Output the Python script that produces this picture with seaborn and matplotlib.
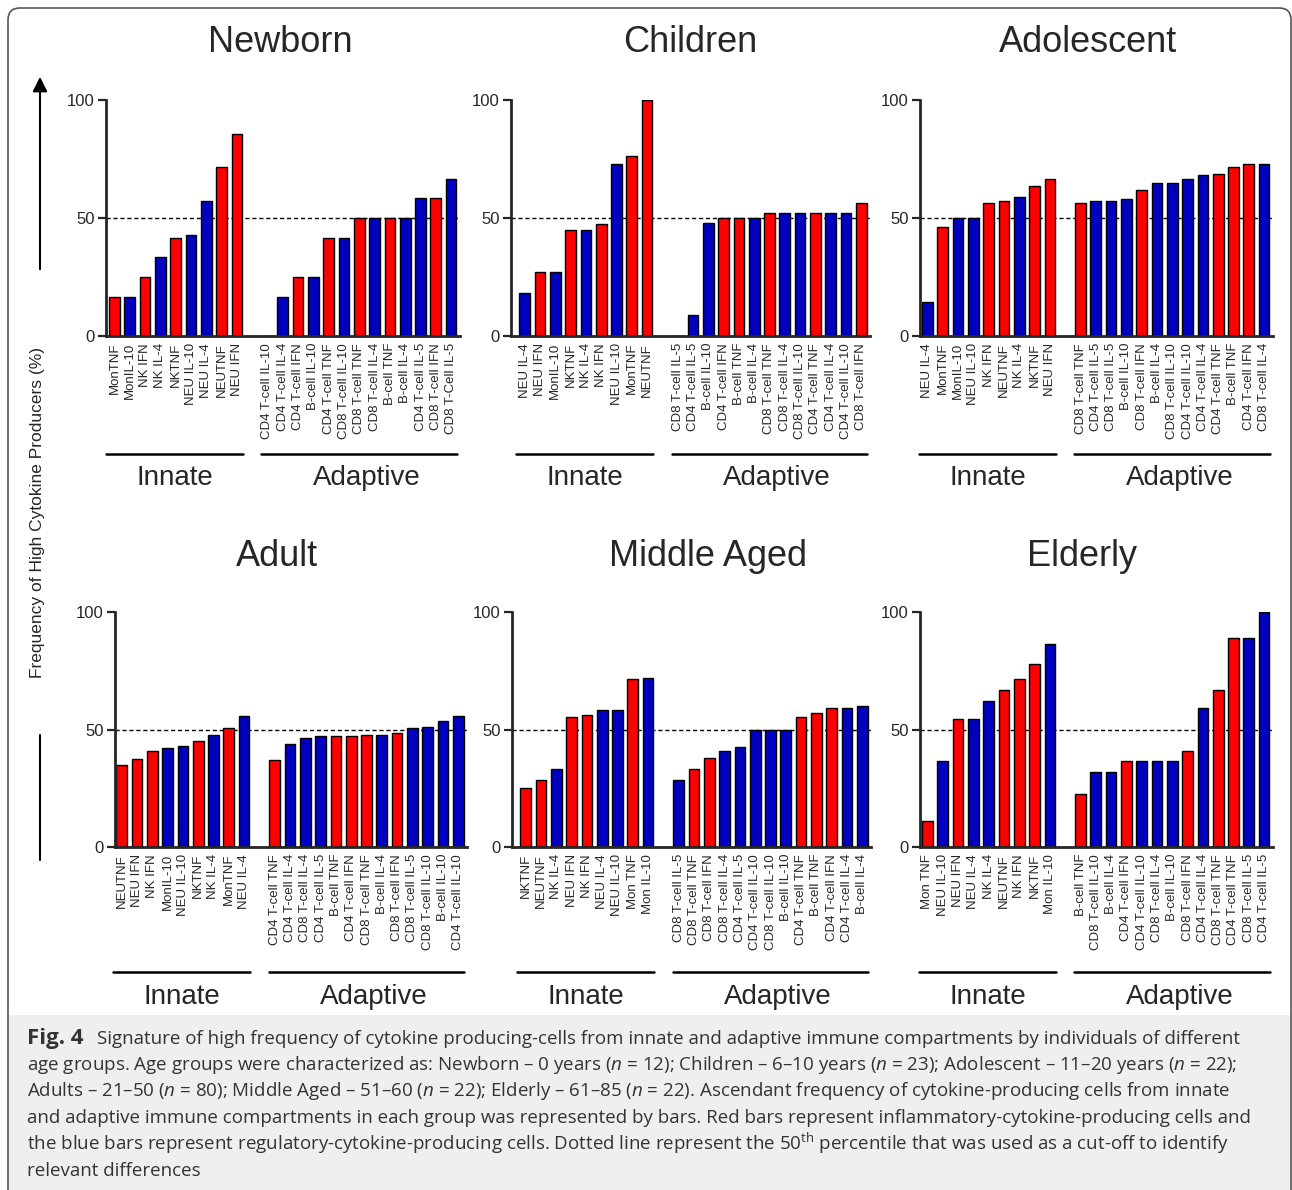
import matplotlib
matplotlib.use('Agg')
import matplotlib.pyplot as plt
from matplotlib.lines import Line2D
from matplotlib.patches import FancyBboxPatch, Rectangle, FancyArrowPatch
from matplotlib.transforms import blended_transform_factory
import pandas as pd
import seaborn as sns

W, H = 1292, 1190

# --- data (frequency of high cytokine producers, %) ---
titles = ['Newborn', 'Children', 'Adolescent', 'Adult', 'Middle Aged', 'Elderly']

newborn_innate = ['MonTNF', 'MonIL-10', 'NK IFN', 'NK IL-4', 'NKTNF', 'NEU IL-10',
                  'NEU IL-4', 'NEUTNF', 'NEU IFN']
newborn_innate_vals = [16.7, 16.7, 25.0, 33.3, 41.7, 42.9, 57.1, 71.4, 85.7]
newborn_adaptive = ['CD4 T-cell IL-10', 'CD4 T-cell IL-4', 'CD4 T-cell IFN', 'B-cell IL-10',
                    'CD4 T-cell TNF', 'CD8 T-cell IL-10', 'CD8 T-cell TNF', 'CD8 T-cell IL-4',
                    'B-cell TNF', 'B-cell IL-4', 'CD4 T-cell IL-5', 'CD8 T-cell IFN',
                    'CD8 T-Cell IL-5']
newborn_adaptive_vals = [0, 16.7, 25.0, 25.0, 41.7, 41.7, 50.0, 50.0, 50.0, 50.0, 58.3, 58.3, 66.7]

children_innate = ['NEU IL-4', 'NEU IFN', 'MonIL-10', 'NKTNF', 'NK IL-4', 'NK IFN',
                   'NEU IL-10', 'MonTNF', 'NEUTNF']
children_innate_vals = [18.2, 27.3, 27.3, 45.0, 45.0, 47.6, 72.7, 76.2, 100.0]
children_adaptive = ['CD8 T-cell IL-5', 'CD4 T-cell IL-5', 'B-cell IL-10', 'CD4 T-cell IFN',
                     'B-cell TNF', 'B-cell IL-4', 'CD8 T-cell TNF', 'CD8 T-cell IL-4',
                     'CD8 T-cell IL-10', 'CD4 T-cell TNF', 'CD4 T-cell IL-4', 'CD4 T-cell IL-10',
                     'CD8 T-cell IFN']
children_adaptive_vals = [0, 9.1, 47.8, 50.0, 50.0, 50.0, 52.2, 52.2, 52.2, 52.2, 52.2, 52.2, 56.5]

adolescent_innate = ['NEU IL-4', 'MonTNF', 'MonIL-10', 'NEU IL-10', 'NK IFN', 'NEUTNF',
                     'NK IL-4', 'NKTNF', 'NEU IFN']
adolescent_innate_vals = [14.3, 46.2, 50.0, 50.0, 56.3, 57.1, 58.8, 63.6, 66.7]
adolescent_adaptive = ['CD8 T-cell TNF', 'CD4 T-cell IL-5', 'CD8 T-cell IL-5', 'B-cell IL-10',
                       'CD8 T-cell IFN', 'B-cell IL-4', 'CD8 T-cell IL-10', 'CD4 T-cell IL-10',
                       'CD4 T-cell IL-4', 'CD4 T-cell TNF', 'B-cell TNF', 'CD4 T-cell IFN',
                       'CD8 T-cell IL-4']
adolescent_adaptive_vals = [56.3, 57.1, 57.1, 57.9, 62.0, 65.0, 65.0, 66.7, 68.2, 68.8,
                            71.4, 72.7, 72.7]

adult_innate = ['NEUTNF', 'NEU IFN', 'NK IFN', 'MonIL-10', 'NEU IL-10', 'NKTNF', 'NK IL-4',
                'MonTNF', 'NEU IL-4']
adult_innate_vals = [35.1, 37.3, 40.7, 42.3, 43.1, 45.0, 47.7, 50.8, 55.7]
adult_adaptive = ['CD4 T-cell TNF', 'CD4 T-cell IL-4', 'CD8 T-cell IL-4', 'CD4 T-cell IL-5',
                  'B-cell TNF', 'CD4 T-cell IFN', 'CD8 T-cell TNF', 'B-cell IL-4',
                  'CD8 T-cell IFN', 'CD8 T-cell IL-5', 'CD8 T-cell IL-10', 'B-cell IL-10',
                  'CD4 T-cell IL-10']
adult_adaptive_vals = [36.9, 43.7, 46.3, 47.2, 47.2, 47.2, 47.5, 47.7, 48.5, 50.8, 51.2,
                       53.5, 55.6]

middle_innate = ['NKTNF', 'NEUTNF', 'NK IL-4', 'NEU IFN', 'NK IFN', 'NEU IL-4', 'NEU IL-10',
                 'Mon TNF', 'Mon IL-10']
middle_innate_vals = [24.9, 28.4, 33.1, 55.4, 56.2, 58.1, 58.1, 71.3, 72.1]
middle_adaptive = ['CD8 T-cell IL-5', 'CD8 T-cell TNF', 'CD8 T-cell IFN', 'CD8 T-cell IL-4',
                   'CD4 T-cell IL-5', 'CD4 T-cell IL-10', 'CD8 T-cell IL-10', 'B-cell IL-10',
                   'CD4 T-cell TNF', 'B-cell TNF', 'CD4 T-cell IFN', 'CD4 T-cell IL-4',
                   'B-cell IL-4']
middle_adaptive_vals = [28.4, 33.1, 37.9, 40.7, 42.7, 50.0, 50.0, 50.0, 55.4, 56.9, 59.0,
                        59.0, 59.8]

elderly_innate = ['Mon TNF', 'NEU IL-10', 'NEU IFN', 'NEU IL-4', 'NK IL-4', 'NEUTNF', 'NK IFN',
                  'NKTNF', 'Mon IL-10']
elderly_innate_vals = [11.1, 36.4, 54.5, 54.5, 62.0, 67.0, 71.5, 78.0, 86.5]
elderly_adaptive = ['B-cell TNF', 'CD8 T-cell IL-10', 'B-cell IL-4', 'CD4 T-cell IFN',
                    'CD4 T-cell IL-10', 'CD8 T-cell IL-4', 'B-cell IL-10', 'CD8 T-cell IFN',
                    'CD4 T-cell IL-4', 'CD8 T-cell TNF', 'CD4 T-cell TNF', 'CD8 T-cell IL-5',
                    'CD4 T-cell IL-5']
elderly_adaptive_vals = [22.7, 31.8, 31.8, 36.4, 36.4, 36.4, 36.4, 40.9, 59.1, 67.0, 88.9,
                         88.9, 100.0]

panels = [
    (newborn_innate, newborn_innate_vals, newborn_adaptive, newborn_adaptive_vals),
    (children_innate, children_innate_vals, children_adaptive, children_adaptive_vals),
    (adolescent_innate, adolescent_innate_vals, adolescent_adaptive, adolescent_adaptive_vals),
    (adult_innate, adult_innate_vals, adult_adaptive, adult_adaptive_vals),
    (middle_innate, middle_innate_vals, middle_adaptive, middle_adaptive_vals),
    (elderly_innate, elderly_innate_vals, elderly_adaptive, elderly_adaptive_vals),
]

RED = '#FF0000'
BLUE = '#0000C0'


def kind_of(label):
    # TNF / IFN -> inflammatory (red), IL-4 / IL-5 / IL-10 -> regulatory (blue)
    return 'inflammatory' if ('TNF' in label or 'IFN' in label) else 'regulatory'


sns.set_style('ticks')
plt.rcParams['font.family'] = ['Liberation Sans', 'DejaVu Sans']
plt.rcParams['mathtext.fontset'] = 'custom'
plt.rcParams['mathtext.rm'] = 'Open Sans'
plt.rcParams['mathtext.it'] = 'Open Sans:italic'
plt.rcParams['mathtext.bf'] = 'Open Sans:bold'

fig = plt.figure(figsize=(W / 100, H / 100), dpi=100)

# layout in pixels: (spine x, first bar centre x, title centre x)
pitch = 15.3
xpos = [(106, 114.5, 280), (511, 524.7, 690), (920, 927.5, 1088),
        (115, 121.7, 277), (512, 525.7, 708), (920, 927.5, 1082)]
row_y = [(100, 336), (612, 847)]          # y pixel of value 100 and of value 0
title_y = [42, 556]
line_y = [454, 972]
group_y = [478, 997]


def fy(py):
    return 1 - py / H


for i, (inn, inn_v, ada, ada_v) in enumerate(panels):
    row = i // 3
    spine_x, c0, tx = xpos[i]
    top, bot = row_y[row]
    xl = -(c0 - spine_x) / pitch
    xr = 22.6
    ax = fig.add_axes([spine_x / W, fy(bot), (xr - xl) * pitch / W, (bot - top) / H])

    df = pd.DataFrame({'label': inn + ada, 'value': inn_v + ada_v})
    df['kind'] = df['label'].map(kind_of)
    order = inn + [' '] + ada
    sns.barplot(data=df, x='label', y='value', hue='kind', order=order,
                palette={'inflammatory': RED, 'regulatory': BLUE}, dodge=False,
                saturation=1, width=0.7, edgecolor='black', linewidth=1, legend=False, ax=ax)

    ax.axhline(50, color='black', lw=1, ls=(0, (3, 2)), zorder=0.5)
    ax.set_xlim(xl, xr)
    ax.set_ylim(0, 100)
    ax.set_yticks([0, 50, 100])
    ax.set_xlabel('')
    ax.set_ylabel('')
    ax.set_xticks(range(len(order)))
    ax.set_xticklabels(order, rotation=90, fontsize=9.5)
    ax.tick_params(axis='x', length=0, pad=5)
    ax.tick_params(axis='y', labelsize=12, length=6, width=1.6, pad=2)
    sns.despine(ax=ax)
    for s in ['left', 'bottom']:
        ax.spines[s].set_linewidth(2)

    tr = blended_transform_factory(ax.transData, fig.transFigure)
    fig.text(tx / W, fy(title_y[row]), titles[i], ha='center', va='center', fontsize=26)
    for x0, x1, name, shift in [(-0.55, 8.4, 'Innate', 0.0), (9.6, 22.4, 'Adaptive', 0.5)]:
        fig.add_artist(Line2D([x0, x1], [fy(line_y[row])] * 2, transform=tr,
                              color='black', lw=1.8))
        ax.text((x0 + x1) / 2 + shift, fy(group_y[row]), name, transform=tr, ha='center',
                va='center', fontsize=20, clip_on=False)

# shared y label with arrow
fig.text(38 / W, fy(512), 'Frequency of High Cytokine Producers (%)', rotation=90,
         ha='center', va='center', fontsize=12.5)
fig.add_artist(FancyArrowPatch((40 / W, fy(272)), (40 / W, fy(74)), transform=fig.transFigure,
                               arrowstyle='-|>', mutation_scale=22, lw=1.5, color='black'))
fig.add_artist(Line2D([40 / W, 40 / W], [fy(735), fy(860)], color='black', lw=1.5))

# caption panel and rounded frame
fig.add_artist(Rectangle((8 / 100, 0), (W - 9) / 100, (H - 1015) / 100,
                         transform=fig.dpi_scale_trans, facecolor='#efefef',
                         edgecolor='none', zorder=-1))
fig.add_artist(FancyBboxPatch((8 / 100, -0.2), (W - 9) / 100, (H - 8) / 100 + 0.2,
                              boxstyle='round,pad=0,rounding_size=0.12',
                              transform=fig.dpi_scale_trans, facecolor='none',
                              edgecolor='#555555', lw=1.2))

caption = [
    'Signature of high frequency of cytokine producing-cells from innate and adaptive immune compartments by individuals of different',
    r'age groups. Age groups were characterized as: Newborn – 0 years ($\mathit{n}$ = 12); Children – 6–10 years ($\mathit{n}$ = 23); Adolescent – 11–20 years ($\mathit{n}$ = 22);',
    r'Adults – 21–50 ($\mathit{n}$ = 80); Middle Aged – 51–60 ($\mathit{n}$ = 22); Elderly – 61–85 ($\mathit{n}$ = 22). Ascendant frequency of cytokine-producing cells from innate',
    'and adaptive immune compartments in each group was represented by bars. Red bars represent inflammatory-cytokine-producing cells and',
    r'the blue bars represent regulatory-cytokine-producing cells. Dotted line represent the 50$^{\mathrm{th}}$ percentile that was used as a cut-off to identify',
    'relevant differences',
]
cap_y = [1038, 1064, 1090, 1117, 1144, 1170]
cap_font = ['Open Sans', 'DejaVu Sans']
fig.text(27 / W, fy(cap_y[0] + 6), 'Fig. 4', ha='left', va='baseline', fontsize=16,
         fontweight='bold', color='#333333', family=cap_font)
for j, (line, y) in enumerate(zip(caption, cap_y)):
    x0 = 97 if j == 0 else 27
    fig.text(x0 / W, fy(y + 6), line, ha='left', va='baseline', fontsize=13.5,
             color='#333333', family=cap_font)

fig.savefig('out.png', dpi=100)
